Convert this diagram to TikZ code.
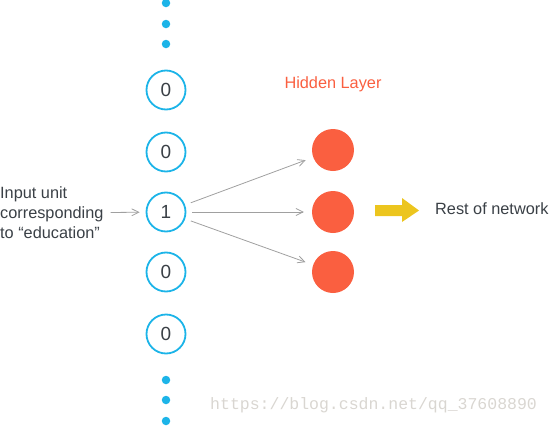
\documentclass[tikz,border=0pt]{standalone}
\usepackage{fontspec}
\setmainfont{Liberation Sans}
\newfontfamily\markfont{Liberation Mono}
\usetikzlibrary{arrows.meta}
\definecolor{unitblue}{HTML}{1CB4E8}
\definecolor{hiddenred}{HTML}{FA5F40}
\definecolor{textgray}{HTML}{3A4046}
\definecolor{linkgray}{HTML}{A0A0A0}
\definecolor{pushyellow}{HTML}{ECC51E}
\definecolor{markgray}{HTML}{D9D6D1}

\begin{document}
\begin{tikzpicture}[x=1pt,y=-1pt,
    unit/.style={circle,draw=unitblue,line width=1.8pt,minimum size=39pt,inner sep=0pt,
      text=textgray,font=\fontsize{19}{20}\selectfont},
    hidden/.style={circle,fill=hiddenred,minimum size=42pt,inner sep=0pt},
    dot/.style={circle,fill=unitblue,minimum size=8.5pt,inner sep=0pt},
    link/.style={draw=linkgray,line width=0.8pt,-{Straight Barb[length=7pt,width=7pt]}},
    caption/.style={text=textgray,inner sep=0pt,font=\fontsize{16.3}{20}\selectfont}]
    \useasboundingbox (0,0) rectangle (550,426);

    % input column
    \node[dot] (dotA) at (166,3) {};
    \node[dot] (dotB) at (166,24) {};
    \node[dot] (dotC) at (166,44) {};
    \node[unit] (u1) at (166,90) {0};
    \node[unit] (u2) at (166,152) {0};
    \node[unit] (u3) at (166,212) {1};
    \node[unit] (u4) at (166,272) {0};
    \node[unit] (u5) at (166,334) {0};
    \node[dot] (dotD) at (166,380) {};
    \node[dot] (dotE) at (166,400) {};
    \node[dot] (dotF) at (166,421) {};

    % hidden layer
    \node[caption,text=hiddenred] (title) at (333,84) {Hidden Layer};
    \node[hidden] (h1) at (333,150) {};
    \node[hidden] (h2) at (333,212) {};
    \node[hidden] (h3) at (333,272) {};

    \node[caption,align=left,anchor=west] (input) at (0,213)
      {Input unit\\corresponding\\to “education”};
    \node[caption,anchor=west] (rest) at (435,209) {Rest of network};

    \draw[link,shorten <=7pt,shorten >=6pt] (input) -- (u3);
    \draw[link,shorten <=6pt,shorten >=8pt] (u3) -- (h1);
    \draw[link,shorten <=6pt,shorten >=8pt] (u3) -- (h2);
    \draw[link,shorten <=6pt,shorten >=8pt] (u3) -- (h3);

    % arrow to the rest
    \fill[pushyellow] (375,205) -- (402,205) -- (402,198) -- (419,210.5)
      -- (402,222) -- (402,216) -- (375,216) -- cycle;

    \node[text=markgray,anchor=west,inner sep=0pt,font=\markfont\fontsize{16.5}{18}\selectfont]
      (mark) at (210,405) {https://blog.csdn.net/qq\_37608890};
\end{tikzpicture}
\end{document}
